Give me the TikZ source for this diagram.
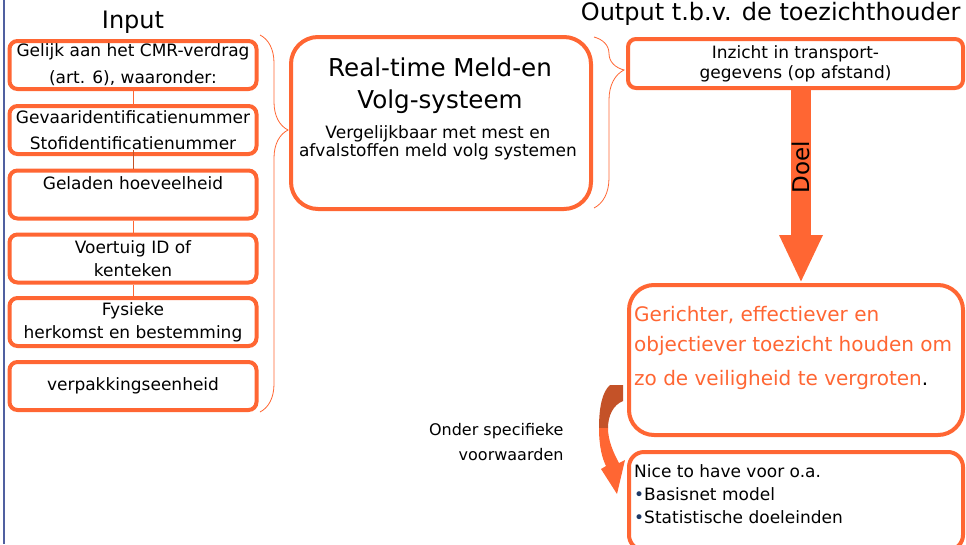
\documentclass[tikz,border=0pt]{standalone}
\usepackage{fontspec}
\setmainfont{DejaVu Sans}
\usetikzlibrary{arrows.meta,decorations.pathreplacing}
\definecolor{slideorange}{RGB}{255,102,51}
\definecolor{slidebrown}{RGB}{196,82,40}
\definecolor{slideblue}{RGB}{80,96,160}
\definecolor{bulletblue}{RGB}{31,56,100}

\begin{document}
\begin{tikzpicture}[x=1pt,y=-1pt,
  box/.style={draw=slideorange,line width=4pt,rounded corners=8pt,fill=white,align=center,inner sep=0pt},
  inbox/.style={box,minimum width=247pt,minimum height=48pt,font=\fontsize{17}{23}\selectfont},
  link/.style={slideorange,line width=0.8pt},
  bracket/.style={slideorange,line width=0.8pt,decorate,decoration={brace,amplitude=28pt,aspect=#1}},
  doel/.style={slideorange,line width=20pt,-{Triangle[width=40pt,length=48pt]}}
]
\useasboundingbox (0,0) rectangle (966,544);
\draw[slideblue,line width=1.2pt] (4,0) -- (4,544);

% input
\node[font=\fontsize{24}{30}\selectfont,anchor=base] (input) at (133,28) {Input};
\foreach \n/\y/\txt in {
  1/65/{Gelijk aan het CMR-verdrag\\[4pt](art. 6), waaronder:},
  2/130/{Gevaaridentificatienummer\\[3pt]Stofidentificatienummer},
  3/194.5/{Geladen hoeveelheid\\\mbox{}},
  4/258.5/{Voertuig ID of\\kenteken},
  5/322/{Fysieke\\herkomst en bestemming},
  6/386/{verpakkingseenheid}}
  \node[inbox] (in\n) at (133,\y) {\txt};
\foreach \a/\b in {1/2,3/4,4/5}
  \draw[link] (in\a) -- (in\b);
\draw[link,slidebrown] ([yshift=6pt]in2.south) -- (in3);
\draw[bracket=0.252] (260,35) -- (260,412);

% systeem
\node[box,rounded corners=27pt,minimum width=300pt,minimum height=172pt] (mvs) at (441,123) {};
\node[font=\fontsize{24.6}{32}\selectfont,align=center] (mvstitle) at (440,86) {Real-time Meld-en\\Volg-systeem};
\node[font=\fontsize{17}{18}\selectfont,align=center] (mvssub) at (438,143) {Vergelijkbaar met mest en\\afvalstoffen meld volg systemen};
\draw[bracket=0.193,decoration={amplitude=30pt}] (594,37) -- (594,208);

% output
\node[font=\fontsize{24}{30}\selectfont,anchor=base east] (output) at (964,20) {Output t.b.v. de toezichthouder};
\node[box,minimum width=335pt,minimum height=49pt,font=\fontsize{17}{20}\selectfont] (out1) at (795.5,63.5) {Inzicht in transport-\\gegevens (op afstand)};
\node[box,rounded corners=25pt,minimum width=334pt,minimum height=150pt] (out2) at (796,360) {};
\node[font=\fontsize{20}{30}\selectfont,text=slideorange,align=left,anchor=north west,inner sep=0pt] (doeltext) at (634,306)
  {Gerichter, effectiever en\\objectiever toezicht houden om\\[4pt]zo de veiligheid te vergroten\textcolor{black}{.}};
\node[box,rounded corners=15pt,minimum width=334pt,minimum height=98pt] (out3) at (796,501) {};
\node[font=\fontsize{17}{23}\selectfont,align=left,anchor=north west,inner sep=0pt] (nicetext) at (634,464)
  {Nice to have voor o.a.\\\textcolor{bulletblue}{•}Basisnet model\\\textcolor{bulletblue}{•}Statistische doeleinden};

\draw[doel] ([xshift=5.5pt]out1.south) -- ([xshift=5pt]out2.north)
  node[pos=0.4,rotate=90,font=\fontsize{23}{23}\selectfont,text=black] (doellabel) {Doel};

% gebogen pijl
\fill[slidebrown] (610,385) -- (623,385) -- (623,401) .. controls (613,405) and (608,416) .. (608,428)
  -- (599,428) .. controls (599,408) and (602,392) .. (610,385) -- cycle;
\fill[slideorange] (599,428) .. controls (599,446) and (602,458) .. (606,466) -- (601,469) -- (617,494)
  -- (625,460) -- (619,463) .. controls (613,452) and (608,440) .. (608,428) -- cycle;
\node[font=\fontsize{16}{25}\selectfont,align=right,anchor=east] (voorwaarden) at (567,442) {Onder specifieke\\voorwaarden};
\end{tikzpicture}
\end{document}
